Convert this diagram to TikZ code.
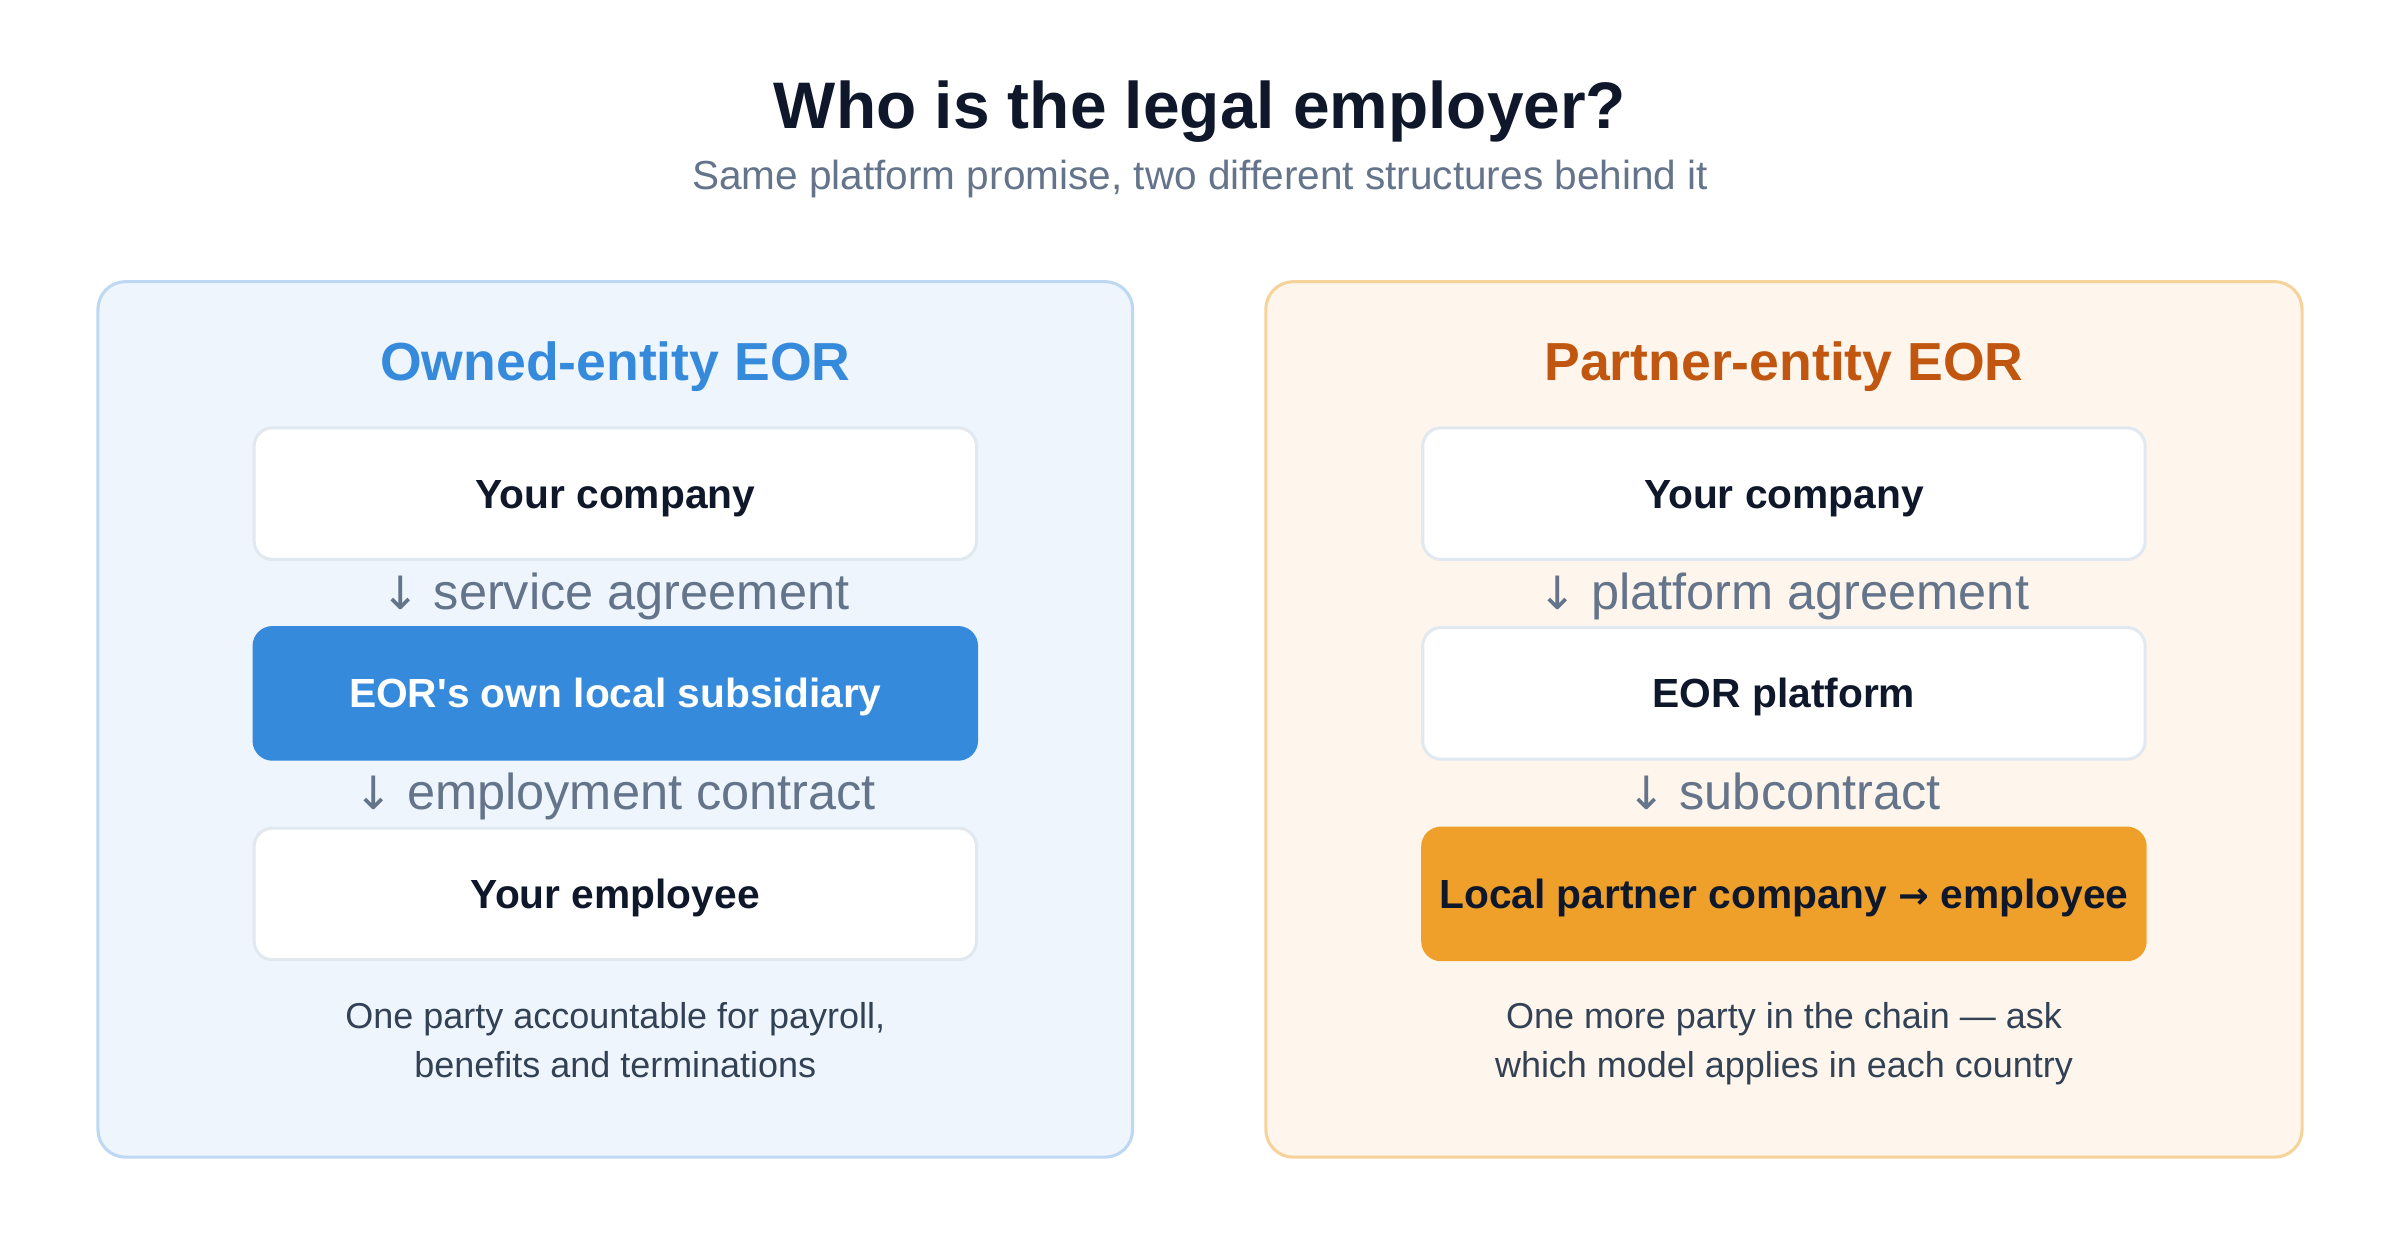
\documentclass[tikz,border=0pt]{standalone}
\usepackage{fontspec}
\setmainfont{Liberation Sans}
\newfontfamily\cardfont{Liberation Sans}
\newfontfamily\arrowfont{DejaVu Sans}
\definecolor{ink}{HTML}{0F172A}
\definecolor{subgray}{HTML}{64748B}
\definecolor{footgray}{HTML}{334155}
\definecolor{bluepanel}{HTML}{EEF5FD}
\definecolor{blueedge}{HTML}{BCD8F2}
\definecolor{bluemain}{HTML}{368ADC}
\definecolor{orpanel}{HTML}{FEF6EC}
\definecolor{oredge}{HTML}{F6D39B}
\definecolor{ortitle}{HTML}{C0560F}
\definecolor{ormain}{HTML}{EEA02A}
\definecolor{boxedge}{HTML}{E2E8F0}
\newcommand{\dnarrow}{{\arrowfont\fontsize{30}{36}\selectfont ↓}}
\newcommand{\rtarrow}{{\arrowfont\bfseries\fontsize{24}{30}\selectfont →}}
\tikzset{
  panel/.style={rounded corners=18pt, line width=2pt},
  card/.style={rounded corners=12pt, line width=2pt, minimum width=472pt, minimum height=86pt, inner sep=0pt,
     text height=19pt, text depth=0pt,
     font=\cardfont\fontsize{26.6}{31}\selectfont\bfseries, text=ink},
  whitecard/.style={card, fill=white, draw=boxedge},
  bluecard/.style={card, fill=bluemain, draw=bluemain, text=white},
  orcard/.style={card, fill=ormain, draw=ormain},
  flowlbl/.style={anchor=base, font=\fontsize{33}{38}\selectfont, text=subgray},
  foot/.style={anchor=base, font=\fontsize{23.5}{32}\selectfont, text=footgray},
  ptitle/.style={anchor=base, font=\fontsize{35}{42}\selectfont\bfseries}
}
\begin{document}
\begin{tikzpicture}[x=1pt,y=-1pt]
\fill[white] (0,0) rectangle (1568,823);
\useasboundingbox (0,0) rectangle (1568,823);
% heading
\node[anchor=base, font=\fontsize{43}{50}\selectfont\bfseries, text=ink] (title) at (784,84) {Who is the legal employer?};
\node[anchor=base, font=\fontsize{26.5}{32}\selectfont, text=subgray] (subtitle) at (784,124) {Same platform promise, two different structures behind it};
% panels
\draw[panel, fill=bluepanel, draw=blueedge] (64,184) rectangle (740,756);
\draw[panel, fill=orpanel, draw=oredge] (827,184) rectangle (1504,756);
\node[ptitle, text=bluemain] (ltitle) at (402,248.5) {Owned-entity EOR};
\node[ptitle, text=ortitle] (rtitle) at (1165.5,248.5) {Partner-entity EOR};
% left chain
\node[whitecard] (l1) at (402,322.5) {Your company};
\node[flowlbl] (le1) at (402,398) {\dnarrow\ service agreement};
\node[bluecard] (l2) at (402,453) {EOR's own local subsidiary};
\node[flowlbl] (le2) at (402,529) {\dnarrow\ employment contract};
\node[whitecard] (l3) at (402,584) {Your employee};
\node[foot] (lfoot1) at (402,672) {One party accountable for payroll,};
\node[foot] (lfoot2) at (402,704) {benefits and terminations};
% right chain
\node[whitecard] (r1) at (1165.5,322.5) {Your company};
\node[flowlbl] (re1) at (1165.5,398) {\dnarrow\ platform agreement};
\node[whitecard] (r2) at (1165.5,453) {EOR platform};
\node[flowlbl] (re2) at (1165.5,529) {\dnarrow\ subcontract};
\node[orcard] (r3) at (1165.5,584) {Local partner company \rtarrow\ employee};
\node[foot] (rfoot1) at (1165.5,672) {One more party in the chain — ask};
\node[foot] (rfoot2) at (1165.5,704) {which model applies in each country};
\end{tikzpicture}
\end{document}
